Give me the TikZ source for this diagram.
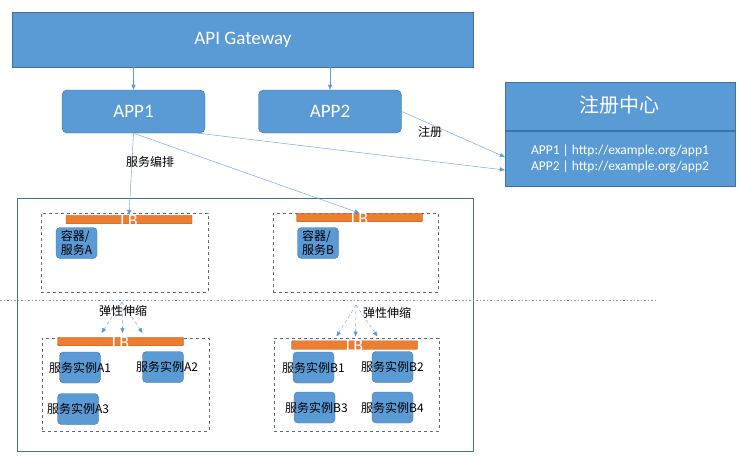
\documentclass[tikz,border=0pt]{standalone}
\usepackage{fontspec}
\setmainfont{Carlito}
\newfontfamily\cjk{Noto Sans CJK SC}
\usetikzlibrary{arrows.meta}
\definecolor{boxblue}{HTML}{5B9BD5}
\definecolor{edgeblue}{HTML}{41719C}
\definecolor{lborange}{HTML}{ED7D31}
\definecolor{lbedge}{HTML}{AE5A21}
\definecolor{dashgray}{HTML}{5A6B7E}
\tikzset{
  bluebox/.style={draw=edgeblue, fill=boxblue, text=white, inner sep=0pt},
  appbox/.style={bluebox, rounded corners=5pt, minimum width=143pt, minimum height=43pt, font=\fontsize{19}{21}\selectfont},
  lbbar/.style={draw=lbedge, fill=lborange, rounded corners=1pt, minimum width=126pt, minimum height=8.5pt, inner sep=0pt,
    label={[text=white, font=\fontsize{18}{18}\selectfont, inner sep=0pt, yshift=-1pt]center:LB}},
  grpbox/.style={draw=dashgray, dashed, minimum height=79pt, inner sep=0pt},
  svcbox/.style={draw=edgeblue, fill=boxblue, rounded corners=4pt, minimum width=41pt, minimum height=31pt, inner sep=0pt},
  cjklabel/.style={font=\cjk\fontsize{12}{14}\selectfont, inner sep=0pt},
  flow/.style={draw=boxblue, -{Triangle[length=5pt,width=4pt]}},
  scaleflow/.style={draw=boxblue, dashed, -{Triangle[length=5pt,width=4pt]}}
}
\begin{document}
\begin{tikzpicture}[x=1pt, y=-1pt]
\useasboundingbox (0,0) rectangle (739,460);
% top row
\node[bluebox, minimum width=461pt, minimum height=55pt, font=\fontsize{19}{21}\selectfont] (gw) at (243,39.5) {API Gateway};
\node[appbox] (app1) at (133.5,111.5) {APP1};
\node[appbox] (app2) at (330,111.5) {APP2};
\draw[flow] (gw.south -| app1.north) -- (app1.north);
\draw[flow] (gw.south -| app2.north) -- (app2.north);
% registry
\node[bluebox, minimum width=230pt, minimum height=104pt] (reg) at (620,134) {};
\draw[edgeblue, line width=1.2pt] (reg.west |- 0,131) -- (reg.east |- 0,131);
\node[cjklabel, text=white, font=\cjk\fontsize{20}{22}\selectfont] (regtitle) at (619,105) {注册中心};
\node[text=white, align=center, inner sep=0pt, font=\fontsize{13.5}{16}\selectfont] (reglist) at (620,159)
  {APP1 | http://example.org/app1\\APP2 | http://example.org/app2};
% outer frame and split line
\node[draw=edgeblue, minimum width=456pt, minimum height=253pt, inner sep=0pt] (frame) at (245,324.5) {};
\coordinate (splitl) at (0,300);
\coordinate (splitr) at (655,300);
\draw[boxblue, dash pattern=on 1.5pt off 2pt] (splitl) -- (splitr);
% service groups
\node[grpbox, minimum width=167pt] (grpa) at (124.5,252.5) {};
\node[grpbox, minimum width=165pt] (grpb) at (355.5,252.5) {};
\node[grpbox, minimum width=167pt, minimum height=93pt] (grpa2) at (125.5,384.5) {};
\node[grpbox, minimum width=165pt, minimum height=93pt] (grpb2) at (356.5,384.5) {};
\node[lbbar] (lba) at (129,219.5) {};
\node[lbbar] (lbb) at (359.5,217.5) {};
\node[lbbar] (lba2) at (120.5,341.5) {};
\node[lbbar] (lbb2) at (354.5,345) {};
\node[svcbox, label={[cjklabel, align=left]center:容器/\\服务A}] (ctra) at (76.5,243) {};
\node[svcbox, label={[cjklabel, align=left]center:容器/\\服务B}] (ctrb) at (318,243) {};
\node[svcbox, label={[cjklabel]center:服务实例A1}] (insa1) at (80,367.5) {};
\node[svcbox, label={[cjklabel, xshift=4pt]center:服务实例A2}] (insa2) at (163,367) {};
\node[svcbox, label={[cjklabel]center:服务实例A3}] (insa3) at (78,409) {};
\node[svcbox, label={[cjklabel]center:服务实例B1}] (insb1) at (313.5,367.5) {};
\node[svcbox, label={[cjklabel]center:服务实例B2}] (insb2) at (392.5,367) {};
\node[svcbox, label={[cjklabel, xshift=2pt]center:服务实例B3}] (insb3) at (314.5,407.5) {};
\node[svcbox, label={[cjklabel]center:服务实例B4}] (insb4) at (392.5,407.5) {};
% calls
\draw[flow] (app2.east) -- ([yshift=-23pt]reg.west);
\node[cjklabel] (lblreg) at (430,132) {注册};
\draw[flow] ([xshift=-7pt]app1.south east) -- ([yshift=-36pt]reg.west);
\draw[flow] (app1.south) -- (lba.north);
\draw[flow] (app1.south) -- (lbb.north);
\node[cjklabel] (lblorch) at (150,162) {服务编排};
% scaling
\coordinate (scla) at (122,302);
\coordinate (sclb) at (356,305);
\foreach \dx in {-19,2,22}
  \draw[scaleflow] (scla) -- ([xshift=\dx pt, yshift=4pt]lba2.north);
\foreach \dx in {-18,1,23}
  \draw[scaleflow] (sclb) -- ([xshift=\dx pt, yshift=4pt]lbb2.north);
\node[cjklabel] (lblscla) at (123,311) {弹性伸缩};
\node[cjklabel] (lblsclb) at (387,313) {弹性伸缩};
\end{tikzpicture}
\end{document}
